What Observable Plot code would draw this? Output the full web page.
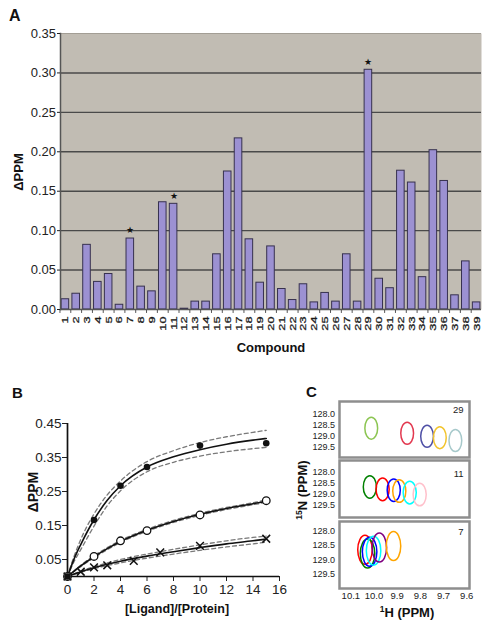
<!DOCTYPE html>
<html><head><meta charset="utf-8">
<script src="https://cdn.jsdelivr.net/npm/d3@7"></script>
<script src="https://cdn.jsdelivr.net/npm/@observablehq/plot@0.6"></script>
<style>
body{margin:0;background:#fff;}
#root{position:relative;width:490px;height:629px;overflow:hidden;background:#fff;}
</style></head><body><div id="root"></div>
<script>
// ---------- Panel A data ----------
const compounds = ["1","2","3","4","5","6","7","8","9","10","11","12","13","14","15","16","17","18","19","20",
  "21","22","23","24","25","26","27","28","29","30","31","32","33","34","35","36","37","38","39"];
const dppm = [0.013,0.020,0.082,0.035,0.045,0.006,0.090,0.029,0.023,0.136,0.134,0.001,0.010,0.010,0.070,0.175,0.217,0.089,0.034,0.080,
  0.026,0.012,0.032,0.009,0.021,0.010,0.070,0.010,0.304,0.039,0.027,0.176,0.161,0.041,0.202,0.163,0.018,0.061,0.009];
const starred = ["7","11","29"];
const aTicks = [0,0.05,0.10,0.15,0.20,0.25,0.30,0.35];

// ---------- Panel B data ----------
const filledX = [0,2,4,6,10,15];
const filledY = [0,0.166,0.267,0.322,0.385,0.392];
const openX = [0,2,4,6,10,15];
const openY = [0,0.059,0.105,0.135,0.181,0.223];
const crossX = [0,1,2,3,5,7,10,15];
const crossY = [0,0.014,0.027,0.033,0.046,0.071,0.090,0.111];
const fitX = [0,0.5,1,2,3,4,6,8,10,12,14,15];
const fitFilled = [0,0.052,0.094,0.167,0.224,0.267,0.322,0.352,0.373,0.389,0.401,0.406];
const fitFilledHi = [0,0.060,0.109,0.184,0.240,0.281,0.338,0.370,0.394,0.411,0.424,0.430];
const fitFilledLo = [0,0.044,0.079,0.148,0.208,0.252,0.308,0.336,0.354,0.367,0.376,0.380];
const fitOpen = [0,0.016,0.031,0.058,0.082,0.103,0.136,0.162,0.183,0.200,0.214,0.221];
const fitOpenHi = [0,0.017,0.033,0.061,0.085,0.106,0.139,0.165,0.186,0.203,0.217,0.225];
const fitOpenLo = [0,0.015,0.029,0.055,0.079,0.100,0.133,0.159,0.180,0.197,0.211,0.218];
const fitCross = [0,0.007,0.014,0.026,0.036,0.045,0.060,0.073,0.085,0.096,0.105,0.110];
const fitCrossHi = [0,0.008,0.016,0.029,0.040,0.050,0.066,0.080,0.093,0.105,0.115,0.119];
const fitCrossLo = [0,0.006,0.012,0.023,0.032,0.040,0.054,0.066,0.077,0.087,0.096,0.101];
const bYTicks = [0.05,0.15,0.25,0.35,0.45];
const bXTicks = [0,2,4,6,8,10,12,14,16];

// ---------- Panel C data ----------
const toneNames = ["green","red","blue","yellow","slate","orange","cyan","pink","purple"];
const toneColors = ["#8cc552","#e2384f","#4f50a6","#f2c42c","#a7c9cb","#f2b63c","#5ec8d8","#f4bcd2","#a98fdc"];
const h29 = [10.012, 9.857, 9.771, 9.716, 9.649];
const n29 = [128.65, 128.88, 129.02, 129.08, 129.21];
const t29 = ["green","red","blue","yellow","slate"];
const h11 = [10.018, 9.963, 9.915, 9.891, 9.846, 9.803];
const n11 = [128.68, 128.79, 128.83, 128.87, 128.94, 129.03];
const t11 = ["green","red","blue","orange","cyan","pink"];
const h7 = [10.039, 10.028, 10.019, 10.002, 9.977, 9.916];
const n7 = [128.65, 128.78, 128.72, 128.68, 128.57, 128.52];
const t7 = ["red","green","blue","cyan","purple","orange"];
const cYTicks = [128.0,128.5,129.0,129.5];
const cXTicks = [10.1,10.0,9.9,9.8,9.7,9.6];

const FONT = "'Liberation Sans', Arial, Helvetica, sans-serif";
const root = document.getElementById("root");
function place(node, left, top) {
  node.style.position = "absolute";
  node.style.left = left + "px";
  node.style.top = top + "px";
  root.appendChild(node);
}
const baseStyle = {fontFamily: FONT, background: "transparent", color: "#222", overflow: "visible"};

// ---------- Panel A ----------
const dataA = compounds.map((c, i) => ({c, v: dppm[i]}));
const starData = dataA.filter(d => starred.includes(d.c));
const aInner = 0.3, aOuter = 0.1;
const aStep = (490 - 60 - 9) / (compounds.length - aInner + 2 * aOuter);
const plotA = Plot.plot({
  width: 490, height: 355,
  marginLeft: 60, marginRight: 9, marginTop: 33, marginBottom: 46,
  style: baseStyle,
  x: {type: "band", domain: compounds, paddingInner: aInner, paddingOuter: aOuter},
  y: {domain: [0, 0.35]},
  marks: [
    Plot.frame({fill: "#c1bcb3", stroke: null}),
    Plot.ruleY(aTicks.filter(t => t > 0 && t < 0.35), {stroke: "#4a4a4a", strokeWidth: 1.4}),
    Plot.ruleY([0.35], {stroke: "#a39e95", strokeWidth: 1}),
    Plot.barY(dataA, {x: "c", y: "v", fill: "#9c91d2", stroke: "#37314f", strokeWidth: 1}),
    Plot.text(starData, {x: "c", y: "v", text: () => "★", dy: -8, fontSize: 9, fill: "#111"}),
    Plot.ruleX(compounds, {x: d => d, dx: -aStep / 2, y1: 0, y2: -0.005, stroke: "#555"}),
    Plot.ruleY([0], {stroke: "#555", strokeWidth: 1.5}),
    Plot.frame({anchor: "left", stroke: "#555", strokeWidth: 1.5}),
    Plot.axisY({ticks: aTicks, tickFormat: d3.format(".2f"), tickSize: 3, tickPadding: 1.5, fontSize: 13, label: null}),
    Plot.axisX({tickRotate: -90, tickSize: 0, tickPadding: 7, fontSize: 12.5, label: null, fill: "#1a1a1a"})
  ]
});
plotA.querySelectorAll('g[aria-label="x-axis tick label"] text').forEach(t => {
  const tr = t.getAttribute("transform");
  if (tr) t.setAttribute("transform", tr + " scale(1.02,0.74)");
  t.setAttribute("stroke", "#1a1a1a");
  t.setAttribute("stroke-width", "0.35");
});
place(plotA, 0, 0);

// ---------- Panel B ----------
const pts = (xs, ys) => xs.map((x, i) => ({x, y: ys[i]}));
const dash = {stroke: "#7a7a7a", strokeWidth: 1.3, strokeDasharray: "4,3", curve: "monotone-x"};
const solid = {stroke: "#111", strokeWidth: 1.6, curve: "monotone-x"};
const plotB = Plot.plot({
  width: 290, height: 240,
  marginLeft: 67, marginRight: 11, marginTop: 43, marginBottom: 44,
  style: baseStyle,
  x: {domain: [0, 16]},
  y: {domain: [0, 0.45]},
  marks: [
    Plot.axisY({ticks: bYTicks, tickFormat: d3.format(".2f"), tickSize: 5, tickPadding: 1, fontSize: 13.5, label: null}),
    Plot.axisX({ticks: bXTicks, tickSize: 5, tickPadding: 3, fontSize: 13.5, label: null}),
    Plot.line(pts(fitX, fitFilledHi), {x: "x", y: "y", ...dash}),
    Plot.line(pts(fitX, fitFilledLo), {x: "x", y: "y", ...dash}),
    Plot.line(pts(fitX, fitOpenHi), {x: "x", y: "y", ...dash}),
    Plot.line(pts(fitX, fitOpenLo), {x: "x", y: "y", ...dash}),
    Plot.line(pts(fitX, fitCrossHi), {x: "x", y: "y", ...dash}),
    Plot.line(pts(fitX, fitCrossLo), {x: "x", y: "y", ...dash}),
    Plot.line(pts(fitX, fitFilled), {x: "x", y: "y", ...solid}),
    Plot.line(pts(fitX, fitOpen), {x: "x", y: "y", ...solid}),
    Plot.line(pts(fitX, fitCross), {x: "x", y: "y", ...solid}),
    Plot.ruleX([0], {y1: 0, y2: 0.45, stroke: "#111", strokeWidth: 1.7}),
    Plot.ruleY([0], {x1: 0, x2: 16, stroke: "#111", strokeWidth: 1.7}),
    Plot.dot(pts(crossX, crossY), {x: "x", y: "y", symbol: "times", r: 3.6, stroke: "#111", strokeWidth: 1.5}),
    Plot.dot(pts(openX, openY), {x: "x", y: "y", r: 3.8, fill: "#fff", stroke: "#111", strokeWidth: 1.3}),
    Plot.dot(pts(filledX, filledY), {x: "x", y: "y", r: 3.3, fill: "#111", stroke: "none"})
  ]
});
place(plotB, 0, 380);

// ---------- Panel C ----------
function ellipseSymbol(ratio) {
  return {
    draw(ctx, size) {
      const ry = Math.sqrt(size / Math.PI), rx = ry * ratio, k = 0.5523;
      ctx.moveTo(0, -ry);
      ctx.bezierCurveTo(k * rx, -ry, rx, -k * ry, rx, 0);
      ctx.bezierCurveTo(rx, k * ry, k * rx, ry, 0, ry);
      ctx.bezierCurveTo(-k * rx, ry, -rx, k * ry, -rx, 0);
      ctx.bezierCurveTo(-rx, -k * ry, -k * rx, -ry, 0, -ry);
      ctx.closePath();
    }
  };
}
function nmrBox({hs, ns, tones, label, yDomain, top, height, mt, mb, showX, ratio, r, labelDy}) {
  const data = hs.map((h, i) => ({h, n: ns[i], tone: tones[i]}));
  const marks = [
    Plot.frame({stroke: "#8e8e8e", strokeWidth: 2.5, fill: "#fff"}),
    Plot.dot(data, {x: "h", y: "n", stroke: "tone", r, symbol: ellipseSymbol(ratio), strokeWidth: 1.5, fill: "none"}),
    Plot.text([label], {frameAnchor: "top-right", dx: -6, dy: labelDy, fontSize: 9.5, fill: "#222"}),
    Plot.axisY({ticks: cYTicks, tickFormat: d3.format(".1f"), tickSize: 0, tickPadding: 4.5, fontSize: 9, label: null})
  ];
  if (showX) marks.push(Plot.axisX({ticks: cXTicks, tickFormat: d3.format(".1f"), tickSize: 0, tickPadding: 4, fontSize: 9.5, label: null}));
  else marks.push(Plot.axisX({ticks: [], label: null}));
  const p = Plot.plot({
    width: 180, height,
    marginLeft: 39, marginRight: 11, marginTop: mt, marginBottom: mb,
    style: baseStyle,
    x: {domain: [10.149, 9.588]},
    y: {domain: yDomain, reverse: true},
    color: {domain: toneNames, range: toneColors},
    marks
  });
  place(p, 300, top);
}
nmrBox({hs: h29, ns: n29, tones: t29, label: "29", yDomain: [127.44, 129.98], top: 396, height: 64, mt: 5, mb: 3, showX: false, ratio: 0.58, r: 11, labelDy: 5});
nmrBox({hs: h11, ns: n11, tones: t11, label: "11", yDomain: [127.47, 130.08], top: 459, height: 60, mt: 1, mb: 2, showX: false, ratio: 0.58, r: 11.3, labelDy: 10});
nmrBox({hs: h7, ns: n7, tones: t7, label: "7", yDomain: [127.66, 130.0], top: 519, height: 90, mt: 2, mb: 21, showX: true, ratio: 0.5, r: 14.5, labelDy: 7});

// ---------- Overlay labels ----------
const ov = d3.create("svg").attr("width", 490).attr("height", 629)
  .style("pointer-events", "none").attr("font-family", FONT).attr("font-weight", "bold").attr("fill", "#111");
const addText = (t, x, y, size, opts = {}) => {
  const el = ov.append("text").attr("font-size", size).attr("text-anchor", opts.anchor || "start");
  if (opts.rotate) el.attr("transform", `translate(${x},${y}) rotate(-90)`);
  else el.attr("x", x).attr("y", y);
  el.text(t);
  return el;
};
addText("A", 9, 21, 16);
addText("B", 12, 398, 15);
addText("C", 306, 397, 15);
addText("Compound", 271, 352, 13, {anchor: "middle"});
addText("ΔPPM", 23, 172, 13, {anchor: "middle", rotate: true});
addText("ΔPPM", 38, 492, 14, {anchor: "middle", rotate: true});
addText("[Ligand]/[Protein]", 177, 613, 12.5, {anchor: "middle"});
const n15 = ov.append("text").attr("font-size", 13).attr("text-anchor", "middle")
  .attr("transform", "translate(307,490) rotate(-90)");
n15.append("tspan").attr("font-size", 8.5).attr("dy", -5).text("15");
n15.append("tspan").attr("dy", 5).text("N (PPM)");
const h1 = ov.append("text").attr("font-size", 13).attr("text-anchor", "middle").attr("x", 407).attr("y", 617);
h1.append("tspan").attr("font-size", 8.5).attr("dy", -5).text("1");
h1.append("tspan").attr("dy", 5).text("H (PPM)");
place(ov.node(), 0, 0);
</script>
</body></html>
